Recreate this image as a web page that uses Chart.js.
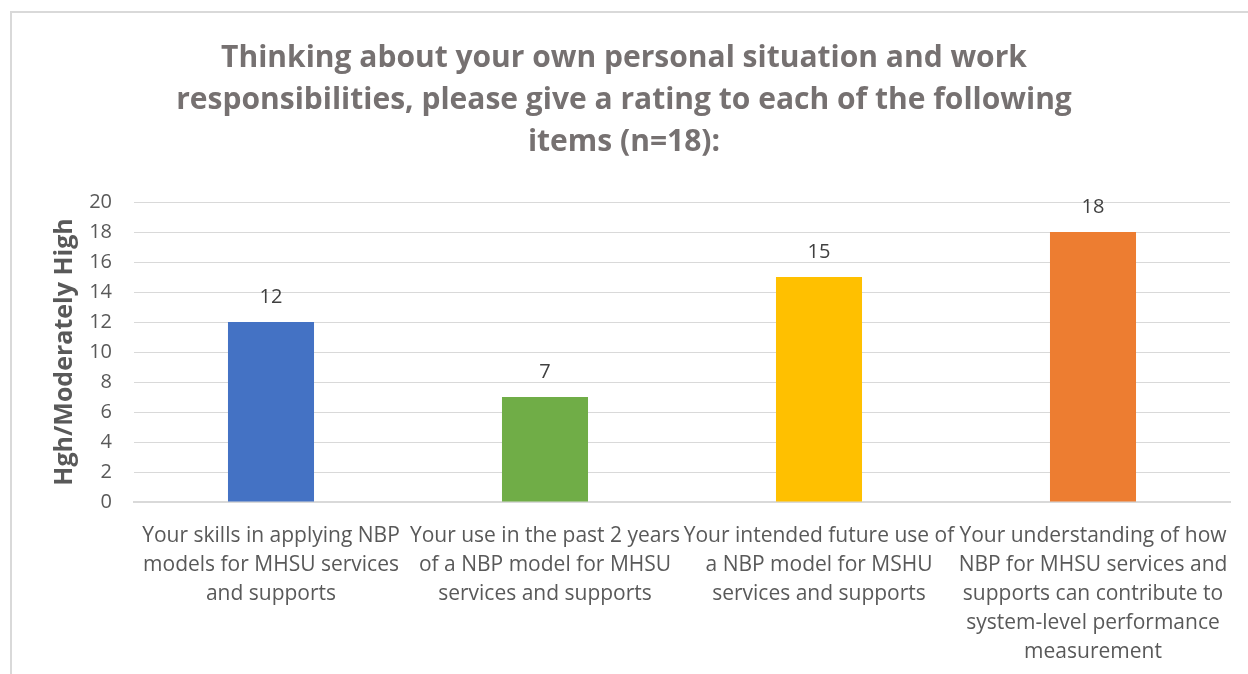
<!DOCTYPE html>
<html>
<head>
<meta charset="utf-8">
<title>NBP ratings</title>
<script src="https://cdn.jsdelivr.net/npm/chart.js@4/dist/chart.umd.min.js"></script>
<style>
  html, body { margin: 0; padding: 0; background: #fff; }
  #wrap { position: relative; width: 1248px; height: 674px; overflow: hidden; }
  #frame {
    position: absolute; left: 10px; top: 11px; width: 1300px; height: 700px;
    border-left: 2px solid #d9d9d9; border-top: 2px solid #d9d9d9;
  }
  #myChart { position: absolute; left: 0; top: 0; }
</style>
</head>
<body>
<div id="wrap">
  <div id="frame"></div>
  <canvas id="myChart" width="1248" height="674"></canvas>
</div>
<script>
// categories, one array of lines per bar
var categories = [
    ['Your skills in applying NBP', 'models for MHSU services', 'and supports'],
    ['Your use in the past 2 years', 'of a NBP model for MHSU', 'services and supports'],
    ['Your intended future use of', 'a NBP model for MSHU', 'services and supports'],
    ['Your understanding of how', 'NBP for MHSU services and', 'supports can contribute to', 'system-level performance', 'measurement']
];
var counts = [12, 7, 15, 18];
var barColors = ['#4472C4', '#70AD47', '#FFC000', '#ED7D31'];
var titleLines = [
    'Thinking about your own personal situation and work',
    'responsibilities, please give a rating to each of the following',
    'items (n=18):'
];
var yTicks = [0, 2, 4, 6, 8, 10, 12, 14, 16, 18, 20];

var grey = '#595959';
var titleGrey = '#767171';
var fontFamily = "'Open Sans', 'Noto Sans', sans-serif";

// chart title, centred on the whole canvas
var chartTitle = {
    id: 'chartTitle',
    afterDraw: function (chart) {
        var ctx = chart.ctx;
        ctx.save();
        ctx.font = 'bold 30px ' + fontFamily;
        ctx.fillStyle = titleGrey;
        ctx.textAlign = 'center';
        ctx.textBaseline = 'middle';
        titleLines.forEach(function (line, i) {
            ctx.fillText(line, chart.width / 2, 58 + i * 42);
        });
        ctx.restore();
    }
};

// writes each bar's value above it
var valueLabels = {
    id: 'valueLabels',
    afterDatasetsDraw: function (chart) {
        var ctx = chart.ctx;
        var meta = chart.getDatasetMeta(0);
        ctx.save();
        ctx.font = '20px ' + fontFamily;
        ctx.fillStyle = '#404040';
        ctx.textAlign = 'center';
        ctx.textBaseline = 'alphabetic';
        meta.data.forEach(function (bar, i) {
            ctx.fillText(String(counts[i]), bar.x, bar.y - 19);
        });
        ctx.restore();
    }
};

var ctx = document.getElementById('myChart').getContext('2d');

var myChart = new Chart(ctx, {
    type: 'bar',
    data: {
        labels: categories,
        datasets: [{
            data: counts,
            backgroundColor: barColors,
            borderWidth: 0,
            barPercentage: 0.314,
            categoryPercentage: 1
        }]
    },
    options: {
        responsive: false,
        animation: false,
        layout: { padding: { left: 40, right: 18, top: 202, bottom: 0 } },
        plugins: {
            legend: { display: false },
            tooltip: { enabled: false },
            title: { display: false }
        },
        scales: {
            x: {
                grid: { display: false },
                border: { display: true, color: '#d9d9d9', width: 2 },
                ticks: {
                    color: grey,
                    font: { family: fontFamily, size: 21, lineHeight: 1.38 },
                    maxRotation: 0,
                    minRotation: 0,
                    autoSkip: false,
                    padding: 12
                },
                afterFit: function (scale) { scale.height = 172; }
            },
            y: {
                min: 0,
                max: 20,
                afterBuildTicks: function (scale) {
                    scale.ticks = yTicks.map(function (v) { return { value: v }; });
                },
                grid: { color: '#d9d9d9', lineWidth: 1, drawTicks: false },
                border: { display: false },
                ticks: {
                    color: grey,
                    font: { family: fontFamily, size: 20 },
                    padding: 22
                },
                title: {
                    display: true,
                    text: 'Hgh/Moderately High',
                    color: grey,
                    font: { family: fontFamily, size: 25, weight: 'bold' },
                    padding: { top: 10, bottom: 4 }
                },
                afterFit: function (scale) { scale.width = 94; }
            }
        }
    },
    plugins: [chartTitle, valueLabels]
});
</script>
</body>
</html>
